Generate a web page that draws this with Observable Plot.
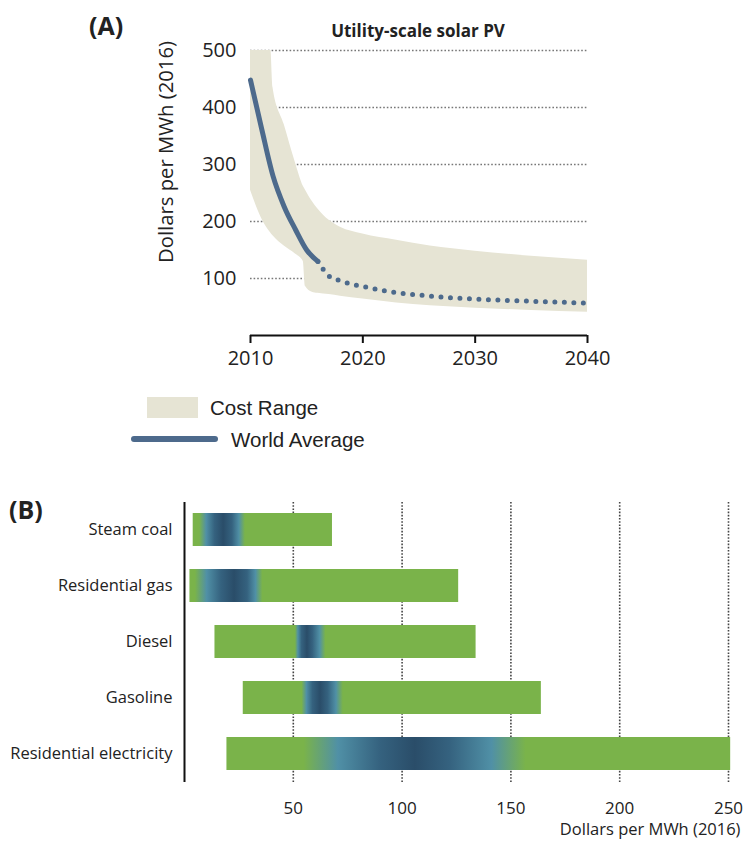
<!DOCTYPE html>
<html>
<head>
<meta charset="utf-8">
<script src="https://cdn.jsdelivr.net/npm/d3@7"></script>
<script src="https://cdn.jsdelivr.net/npm/@observablehq/plot@0.6"></script>
<style>
  html, body { margin: 0; padding: 0; background: #fff; }
  #page { position: relative; width: 747px; height: 842px; overflow: hidden; font-family: "Open Sans", sans-serif; color: #222; }
  .abs { position: absolute; white-space: nowrap; }
  #plotA { position: absolute; left: 0; top: 0; }
  #plotB { position: absolute; left: 0; top: 480px; }
</style>
</head>
<body>
<div id="page">
  <div id="plotA"></div>
  <div id="plotB"></div>
  <div class="abs" style="left:89px; top:10px; font-size:25px; font-weight:700; line-height:30px;">(A)</div>
  <div class="abs" style="left:418px; top:31px; transform:translate(-50%,-50%); font-size:17px; font-weight:700; line-height:22px;">Utility-scale solar PV</div>
  <div class="abs" style="left:147px; top:397px; width:51px; height:21px; background:#e6e4d4;"></div>
  <div class="abs" style="left:210px; top:396px; font-family:'Liberation Sans',Arial,sans-serif; font-size:20.5px; line-height:24px; color:#222;">Cost Range</div>
  <div class="abs" style="left:131px; top:436px; width:87px; height:6px; background:#4d6a8c; border-radius:3px;"></div>
  <div class="abs" style="left:231px; top:428px; font-family:'Liberation Sans',Arial,sans-serif; font-size:20.5px; line-height:24px; color:#222;">World Average</div>
  <div class="abs" style="left:9px; top:494px; font-size:25px; font-weight:700; line-height:30px;">(B)</div>
</div>
<script>
// ---------- Panel A data ----------
const bandYears = [2010, 2011, 2011.8, 2012, 2013, 2014, 2014.7, 2014.9, 2015.5, 2016, 2017, 2018, 2020, 2023, 2026, 2030, 2035, 2040];
const bandHigh  = [520, 520, 505, 435, 370, 303, 262, 255, 235, 222, 202, 190, 178, 167, 157, 148, 139, 132];
const bandLow   = [255, 205, 180, 175, 157, 143, 130, 86, 76, 74, 72, 69, 64, 57, 52, 48, 44, 41];

const histYears = [2010, 2011, 2012, 2013, 2014, 2015, 2016];
const histAvg   = [448, 362, 280, 226, 186, 150, 130];

const projYears = [2016, 2017, 2018, 2019, 2020, 2022, 2025, 2028, 2030, 2035, 2040];
const projAvg   = [130, 104, 96, 90, 86, 78, 71, 66, 64, 60, 57];

const yearTicks = [2010, 2020, 2030, 2040];
const costTicksA = [100, 200, 300, 400, 500];

// ---------- Panel B data ----------
const fuels     = ["Steam coal", "Residential gas", "Diesel", "Gasoline", "Residential electricity"];
const costLow   = [4, 2.5, 14, 27, 19.5];
const costHigh  = [68, 126, 134, 164, 251];
const blueStart = [7, 5, 51, 54, 55];
const darkStart = [14, 17, 54, 59, 90];
const darkEnd   = [22, 29, 59, 66, 122];
const blueEnd   = [28, 36, 65, 73, 157];
const costTicksB = [50, 100, 150, 200, 250];

// ---------- styles ----------
const bandColor = "#e6e4d4";
const lineColor = "#4d6a8c";
const green = "#7ab34a";
const teal = "#5090a6";
const dark = "#35627f";
const darkest = "#2a4d69";

// ---------- Panel A ----------
const band = bandYears.map((y, i) => ({year: y, low: bandLow[i], high: bandHigh[i]}));
const hist = histYears.map((y, i) => ({year: y, value: histAvg[i]}));
const proj = projYears.map((y, i) => ({year: y, value: projAvg[i]}));

const plotA = Plot.plot({
  width: 747,
  height: 380,
  marginTop: 50,
  marginBottom: 45,
  marginLeft: 250,
  marginRight: 160,
  style: {fontFamily: "'Open Sans', sans-serif", color: "#222", background: "transparent"},
  x: {domain: [2010, 2040]},
  y: {domain: [0, 500]},
  marks: [
    Plot.ruleY(costTicksA, {stroke: "#777", strokeWidth: 1.6, strokeDasharray: "1.6,2"}),
    Plot.areaY(band, {x: "year", y1: "low", y2: "high", fill: bandColor, curve: "monotone-x", clip: true}),
    Plot.lineY(hist, {x: "year", y: "value", stroke: lineColor, strokeWidth: 5, curve: "monotone-x", strokeLinecap: "round"}),
    Plot.lineY(proj, {x: "year", y: "value", stroke: lineColor, strokeWidth: 5, curve: "monotone-x", strokeDasharray: "0,9.5", strokeLinecap: "round"}),
    Plot.ruleY([0], {stroke: "#111", strokeWidth: 2}),
    Plot.axisX({ticks: yearTicks, tickFormat: d => `${d}`, tickSize: 8, tickPadding: 7, fontSize: 20, label: null, stroke: "#111", strokeWidth: 2}),
    Plot.axisY({ticks: costTicksA, tickSize: 0, tickPadding: 14, fontSize: 20, label: null}),
    Plot.text(["Dollars per MWh (2016)"], {frameAnchor: "left", textAnchor: "middle", lineAnchor: "middle", rotate: -90, dx: -84, dy: -41, fontSize: 20.3, fill: "#222"})
  ]
});
document.getElementById("plotA").append(plotA);

// ---------- Panel B ----------
const bars = fuels.map((f, i) => ({fuel: f, lo: costLow[i], hi: costHigh[i], id: "grad" + i}));

const plotB = Plot.plot({
  width: 747,
  height: 362,
  marginTop: 22,
  marginBottom: 60,
  marginLeft: 184,
  marginRight: 19,
  style: {fontFamily: "'Open Sans', sans-serif", color: "#222", background: "transparent"},
  x: {domain: [0, 250]},
  y: {domain: fuels, paddingInner: 0.41, paddingOuter: 0.205},
  color: {type: "identity"},
  marks: [
    Plot.ruleX(costTicksB, {stroke: "#444", strokeWidth: 1.6, strokeDasharray: "1.6,1.6"}),
    Plot.barX(bars, {x1: "lo", x2: "hi", y: "fuel", fill: d => `url(#${d.id})`}),
    Plot.ruleX([0], {stroke: "#111", strokeWidth: 2}),
    Plot.axisY({tickSize: 0, tickPadding: 12, fontSize: 16.5, label: null}),
    Plot.axisX({ticks: costTicksB, tickSize: 0, tickPadding: 19, fontSize: 17, label: null}),
    Plot.text(["Dollars per MWh (2016)"], {frameAnchor: "bottom-right", textAnchor: "end", lineAnchor: "middle", dx: 12, dy: 47, fontSize: 16.5, fill: "#222"})
  ]
});

// gradients built from the data arrays
const defs = d3.select(plotB).insert("defs", ":first-child");
bars.forEach((b, i) => {
  const f = v => Math.max(0, Math.min(1, (v - b.lo) / (b.hi - b.lo)));
  const mid = (darkStart[i] + darkEnd[i]) / 2;
  const stops = [
    [0, green],
    [f(blueStart[i]), green],
    [f(blueStart[i] + 0.45 * (darkStart[i] - blueStart[i])), teal],
    [f(darkStart[i]), dark],
    [f(mid), darkest],
    [f(darkEnd[i]), dark],
    [f(darkEnd[i] + 0.55 * (blueEnd[i] - darkEnd[i])), teal],
    [f(blueEnd[i]), green],
    [1, green]
  ];
  const g = defs.append("linearGradient").attr("id", b.id).attr("x1", 0).attr("x2", 1).attr("y1", 0).attr("y2", 0);
  stops.forEach(([o, c]) => g.append("stop").attr("offset", o).attr("stop-color", c));
});
document.getElementById("plotB").append(plotB);
</script>
</body>
</html>
